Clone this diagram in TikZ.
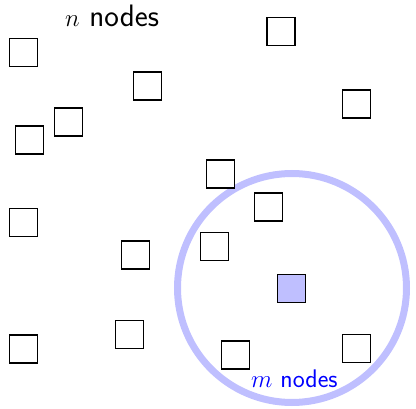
\documentclass[tikz,border=0pt]{standalone}
\begin{document}
\begin{tikzpicture}[x=1pt,y=-1pt,
  vertex/.style={draw=black,line width=1.5pt,minimum size=28pt,inner sep=0pt,fill=white},
  picked/.style={vertex,fill=blue!25},
  ring/.style={draw=blue!25,line width=7pt}]
\useasboundingbox (0,0) rectangle (416,409);
% neighbourhood ring
\draw[ring] (292,288) circle (114.5);
% all vertices
\node[vertex] (a) at (23.5,52.5) {};
\node[vertex] (b) at (281,31.5) {};
\node[vertex] (c) at (147.5,86) {};
\node[vertex] (d) at (356.5,104) {};
\node[vertex] (e) at (68.5,122) {};
\node[vertex] (f) at (29.5,140) {};
\node[vertex] (g) at (220.5,174) {};
\node[vertex] (h) at (268.5,207) {};
\node[vertex] (i) at (23.5,222.5) {};
\node[vertex] (j) at (135.5,255) {};
\node[vertex] (k) at (214.5,246.5) {};
\node[picked] (p) at (291.5,288.5) {};
\node[vertex] (l) at (23.5,349) {};
\node[vertex] (m) at (129.5,334.5) {};
\node[vertex] (q) at (235.5,355) {};
\node[vertex] (r) at (356.5,348.5) {};
% labels
\node[anchor=base west,inner sep=0pt,font=\sffamily\fontsize{31}{35}\selectfont] (nlab) at (65,27) {$n$ nodes};
\node[anchor=base west,inner sep=0pt,text=blue,font=\sffamily\fontsize{25.5}{30}\selectfont] (mlab) at (251,388) {$m$ nodes};
\end{tikzpicture}
\end{document}
